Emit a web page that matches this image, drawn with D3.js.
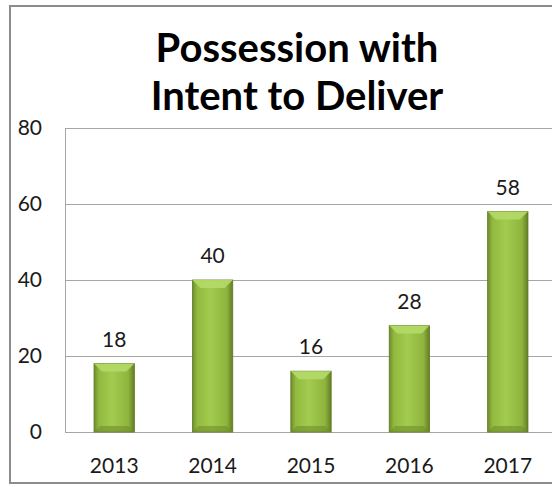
<!DOCTYPE html>
<meta charset="utf-8">
<script src="https://d3js.org/d3.v7.min.js"></script>
<style>
	body {
		margin: 0;
		background: #fff;
		overflow: hidden;
	}
	svg {
		display: block;
		font-family: Lato, "Open Sans", sans-serif;
	}
</style>
<body>
	<div id="chart"></div>
</body>
<script>
	// chart data
	const years = ["2013", "2014", "2015", "2016", "2017"];
	const counts = [18, 40, 16, 28, 58];
	const yTicks = [0, 20, 40, 60, 80];
	const titleLines = ["Possession with", "Intent to Deliver"];

	const width = 552, height = 487;
	const plot = {left: 65, right: 557, top: 128, bottom: 432};

	const svg = d3.select("#chart").append("svg")
		.attr("width", width)
		.attr("height", height);

	// bar gradient, dark edges and a lighter middle
	const defs = svg.append("defs");
	const grad = defs.append("linearGradient")
		.attr("id", "barGrad")
		.attr("x1", "0%").attr("x2", "100%")
		.attr("y1", "0%").attr("y2", "0%");
	grad.append("stop").attr("offset", "0%").attr("stop-color", "#6e8c2a");
	grad.append("stop").attr("offset", "12%").attr("stop-color", "#92ba40");
	grad.append("stop").attr("offset", "45%").attr("stop-color", "#a2cb4f");
	grad.append("stop").attr("offset", "85%").attr("stop-color", "#8fb43d");
	grad.append("stop").attr("offset", "100%").attr("stop-color", "#627e24");

	// outer chart border (right side runs off the page)
	svg.append("path")
		.attr("d", "M" + width + ",6H10V483H" + width)
		.attr("fill", "none")
		.attr("stroke", "#8c8c8c")
		.attr("stroke-width", 2);

	const x = d3.scaleBand()
		.domain(years)
		.range([plot.left, plot.right])
		.paddingInner(0.59)
		.paddingOuter(0.295);

	const y = d3.scaleLinear()
		.domain([0, 80])
		.range([plot.bottom, plot.top]);

	// gridlines
	svg.append("g")
		.selectAll("line")
		.data(yTicks)
		.join("line")
		.attr("x1", plot.left)
		.attr("x2", width)
		.attr("y1", d => Math.round(y(d)) + 0.5)
		.attr("y2", d => Math.round(y(d)) + 0.5)
		.attr("stroke", "#a6a6a6")
		.attr("stroke-width", 1);

	svg.append("line")
		.attr("x1", plot.left + 0.5)
		.attr("x2", plot.left + 0.5)
		.attr("y1", plot.top)
		.attr("y2", plot.bottom)
		.attr("stroke", "#a6a6a6");

	// y axis labels
	const yAxis = svg.append("g")
		.attr("transform", "translate(42,0)")
		.call(d3.axisLeft(y).tickValues(yTicks).tickSize(0).tickPadding(0));
	yAxis.select(".domain").remove();
	yAxis.selectAll("text")
		.attr("font-family", "Lato, sans-serif")
		.attr("font-size", 21)
		.attr("fill", "#1a1a1a");

	// x axis labels
	const xAxis = svg.append("g")
		.attr("transform", "translate(0," + plot.bottom + ")")
		.call(d3.axisBottom(x).tickSize(0).tickPadding(26));
	xAxis.select(".domain").remove();
	xAxis.selectAll("text")
		.attr("font-family", "Lato, sans-serif")
		.attr("font-size", 21)
		.attr("fill", "#1a1a1a");

	// bars
	const bars = svg.append("g")
		.selectAll("g")
		.data(counts)
		.join("g");

	bars.append("rect")
		.attr("x", (d, i) => x(years[i]))
		.attr("y", d => y(d))
		.attr("width", x.bandwidth())
		.attr("height", d => y(0) - y(d))
		.attr("fill", "url(#barGrad)")
		.attr("stroke", "#5d7a22")
		.attr("stroke-width", 0.8);

	// top bevel highlight
	const bevel = 8;
	bars.append("path")
		.attr("d", (d, i) => {
			const x0 = x(years[i]), x1 = x0 + x.bandwidth(), t = y(d);
			return "M" + x0 + "," + t + "L" + x1 + "," + t +
				"L" + (x1 - bevel) + "," + (t + bevel) + "L" + (x0 + bevel) + "," + (t + bevel) + "Z";
		})
		.attr("fill", "#b4da68")
		.attr("opacity", 0.9);

	// bottom shade
	bars.append("path")
		.attr("d", (d, i) => {
			const x0 = x(years[i]), x1 = x0 + x.bandwidth(), b = y(0);
			return "M" + x0 + "," + b + "L" + x1 + "," + b +
				"L" + (x1 - 6) + "," + (b - 6) + "L" + (x0 + 6) + "," + (b - 6) + "Z";
		})
		.attr("fill", "#6f8e2b")
		.attr("opacity", 0.6);

	// value labels
	svg.append("g")
		.selectAll("text")
		.data(counts)
		.join("text")
		.attr("x", (d, i) => x(years[i]) + x.bandwidth() / 2)
		.attr("y", d => y(d) - 17)
		.attr("text-anchor", "middle")
		.attr("font-size", 21)
		.attr("fill", "#1a1a1a")
		.text(d => d);

	// title
	svg.append("text")
		.attr("x", 297)
		.attr("y", 62)
		.attr("text-anchor", "middle")
		.attr("font-size", 40)
		.attr("font-weight", "bold")
		.attr("fill", "#000")
		.selectAll("tspan")
		.data(titleLines)
		.join("tspan")
		.attr("x", 297)
		.attr("dy", (d, i) => i === 0 ? 0 : 48)
		.text(d => d);
</script>
